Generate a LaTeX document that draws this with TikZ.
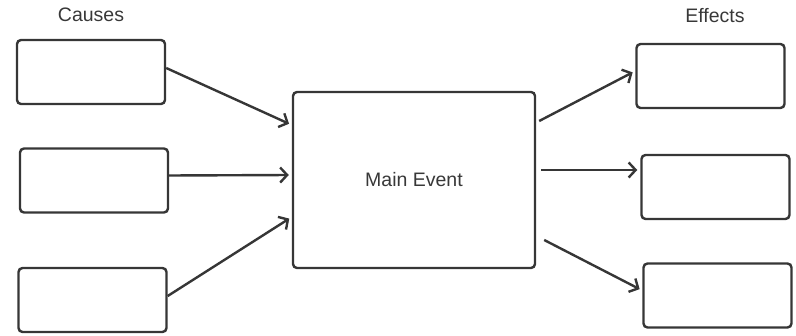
\documentclass[tikz,border=0pt]{standalone}
\usepackage{fontspec}
\setmainfont{Liberation Sans}
\usetikzlibrary{arrows.meta}
\definecolor{boxgray}{HTML}{363636}
\definecolor{txtgray}{HTML}{383838}
\tikzset{
  box/.style={draw=boxgray, line width=2.4pt, rounded corners=4pt, fill=white,
    minimum width=148pt, minimum height=64pt, inner sep=0pt},
  link/.style={draw=boxgray, line width=2.4pt, -{Straight Barb[length=7pt,width=15pt]}, shorten >=3pt},
  lbl/.style={text=txtgray, font=\fontsize{19.5}{22}\selectfont}
}
\begin{document}
\begin{tikzpicture}[x=1pt,y=-1pt]
\useasboundingbox (0,0) rectangle (796,336);
\node[lbl] (causes) at (91,15) {Causes};
\node[lbl] (effects) at (715,16) {Effects};
\foreach \n/\x/\y in {c1/91/72, c2/94/180.5, c3/92.5/300, e1/710.5/76, e2/715.5/187, e3/717.5/295.5}
\node[box] (\n) at (\x,\y) {};
\node[box, lbl, minimum width=242pt, minimum height=176pt] (main) at (414,180) {Main Event};
% causes into main
\draw[link] ([yshift=4pt]c1.east) -- ([yshift=55pt]main.west);
\draw[link] ([yshift=5pt]c2.east) -- ([yshift=5pt]main.west);
\draw[link] ([yshift=4pt]c3.east) -- ([yshift=-37pt]main.west);
% main out to effects
\draw[link] ([xshift=3pt,yshift=59pt]main.east) -- ([yshift=5pt]e1.west);
\draw[link] ([xshift=5pt,yshift=10pt]main.east) -- ([yshift=17pt]e2.west);
\draw[link] ([xshift=8pt,yshift=-60pt]main.east) -- ([yshift=5pt]e3.west);
\end{tikzpicture}
\end{document}
